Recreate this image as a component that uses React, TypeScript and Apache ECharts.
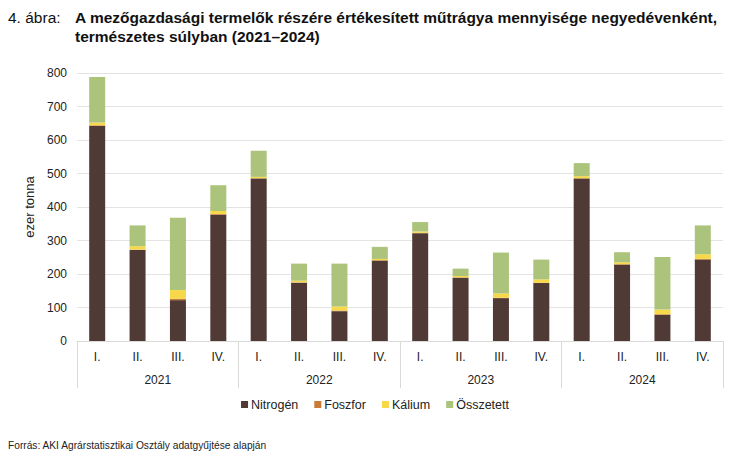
import React, { useEffect, useRef } from "react";
import * as echarts from "echarts";

const years = ["2021", "2022", "2023", "2024"];
const quarters = ["I.", "II.", "III.", "IV.", "I.", "II.", "III.", "IV.", "I.", "II.", "III.", "IV.", "I.", "II.", "III.", "IV."];
const nitrogen = [642, 272, 122, 377, 485, 174, 89, 240, 322, 189, 128, 173, 485, 228, 78, 243];
const foszfor = [2, 1, 4, 2, 1, 1, 2, 1, 1, 1, 1, 1, 1, 1, 2, 2];
const kalium = [8, 10, 26, 9, 4, 5, 12, 4, 4, 4, 13, 10, 6, 6, 14, 14];
const osszetett = [136, 62, 216, 77, 78, 51, 128, 36, 28, 22, 122, 59, 39, 30, 157, 86];
const yTicks = [0, 100, 200, 300, 400, 500, 600, 700, 800];

const FONT = "'Liberation Sans', Arial, sans-serif";

export default function App() {
  const ref = useRef<HTMLDivElement>(null);
  useEffect(() => {
    document.body.style.margin = "0";
    const chart = echarts.init(ref.current!, null, { renderer: "svg" });
    const mk = (name: string, data: number[], color: string) => ({
      name,
      type: "bar",
      stack: "t",
      data,
      barWidth: 16,
      itemStyle: { color },
      emphasis: { disabled: true },
    });
    chart.setOption({
      animation: false,
      textStyle: { fontFamily: FONT },
      grid: { left: 77, right: 27, top: 73, bottom: 120 },
      legend: {
        bottom: 45,
        left: "center",
        itemWidth: 7,
        itemHeight: 7,
        itemGap: 16,
        icon: "rect",
        textStyle: { fontSize: 12.5, color: "#222", fontFamily: FONT, padding: [0, 0, 0, -2] },
        data: ["Nitrogén", "Foszfor", "Kálium", "Összetett"],
      },
      xAxis: [
        {
          type: "category",
          data: quarters,
          axisLine: { lineStyle: { color: "#d9d9d9" } },
          axisTick: { show: false },
          axisLabel: { color: "#222", fontSize: 12, margin: 10, interval: 0 },
        },
        {
          type: "category",
          data: years,
          position: "bottom",
          axisLine: { show: false },
          axisTick: { show: true, length: 47, lineStyle: { color: "#d9d9d9" } },
          axisLabel: { color: "#222", fontSize: 12, margin: 33 },
        },
      ],
      yAxis: {
        type: "value",
        min: yTicks[0],
        max: yTicks[yTicks.length - 1],
        interval: 100,
        name: "ezer tonna",
        nameLocation: "middle",
        nameGap: 37,
        nameTextStyle: { fontSize: 13, color: "#222" },
        axisLabel: { color: "#222", fontSize: 12, margin: 10 },
        splitLine: { lineStyle: { color: "#e3e3e3" } },
      },
      series: [
        mk("Nitrogén", nitrogen, "#503a35"),
        mk("Foszfor", foszfor, "#c97a35"),
        mk("Kálium", kalium, "#f7d848"),
        mk("Összetett", osszetett, "#abc37b"),
      ],
      graphic: [
        { type: "text", left: 8, top: 8, style: { text: "4. ábra:", fontSize: 15.5, lineHeight: 19, fill: "#111", fontFamily: FONT } },
        {
          type: "text",
          left: 75,
          top: 8,
          style: {
            text: "A mezőgazdasági termelők részére értékesített műtrágya mennyisége negyedévenként,\ntermészetes súlyban (2021–2024)",
            fontSize: 15.5,
            fontWeight: "bold",
            lineHeight: 19,
            fill: "#111",
            fontFamily: FONT,
          },
        },
        {
          type: "text",
          left: 8,
          top: 440,
          style: { text: "Forrás: AKI Agrárstatisztikai Osztály adatgyűjtése alapján", fontSize: 10.2, fill: "#222", fontFamily: FONT },
        },
      ],
    });
    return () => chart.dispose();
  }, []);
  return <div ref={ref} style={{ width: 750, height: 461 }} />;
}
